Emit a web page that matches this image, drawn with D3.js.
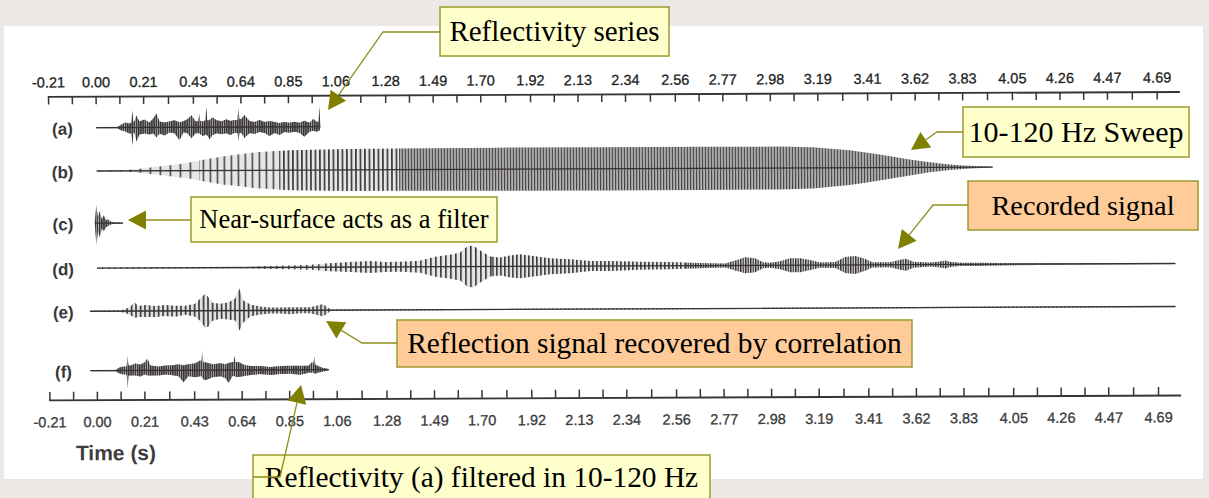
<!DOCTYPE html>
<html>
<head>
<meta charset="utf-8">
<script src="https://cdn.jsdelivr.net/npm/d3@7"></script>
<style>
  html, body { margin: 0; padding: 0; background: #ece8e5; }
  svg { display: block; }
</style>
</head>
<body>
<svg id="ch" width="1209" height="498"></svg>
<script>
// Vibroseis correlation figure: sweep, recorded signal, correlated output

const tickLabels = ["-0.21", "0.00", "0.21", "0.43", "0.64", "0.85", "1.06", "1.28",
  "1.49", "1.70", "1.92", "2.13", "2.34", "2.56", "2.77", "2.98", "3.19", "3.41",
  "3.62", "3.83", "4.05", "4.26", "4.47", "4.69"];
const traceNames = ["(a)", "(b)", "(c)", "(d)", "(e)", "(f)"];

/* envelopes: time (s), amplitude above / below the baseline (1 = full) */

// (a) reflectivity series
const aTime = [0.003, 0.096, 0.114, 0.131, 0.149, 0.158, 0.162, 0.166, 0.171, 0.180, 0.193, 0.215,
  0.237, 0.255, 0.268, 0.282, 0.304, 0.326, 0.348, 0.370, 0.388, 0.405,
  0.423, 0.441, 0.454, 0.458, 0.462, 0.476, 0.485, 0.489, 0.493, 0.503, 0.516, 0.534, 0.556, 0.578,
  0.595, 0.613, 0.627, 0.631, 0.635, 0.644, 0.657, 0.680, 0.702, 0.724, 0.746, 0.768,
  0.790, 0.812, 0.834, 0.856, 0.878, 0.900, 0.922, 0.945, 0.962, 0.976,
  0.985, 0.989, 0.993];
const aUp = [0.03, 0.03, 0.15, 0.25, 0.2, 0.25, 0.85, 0.3, 0.3, 0.6, 0.3, 0.4,
  0.25, 0.45, 0.7, 0.3, 0.25, 0.3, 0.35, 0.25, 0.3, 0.4,
  0.6, 0.3, 0.3, 0.7, 0.3, 0.3, 0.35, 1.0, 0.35, 0.35, 0.5, 0.35, 0.3, 0.4,
  0.3, 0.35, 0.35, 0.95, 0.4, 0.4, 0.6, 0.3, 0.25, 0.35, 0.25, 0.3,
  0.25, 0.2, 0.25, 0.2, 0.25, 0.2, 0.3, 0.2, 0.4, 0.25,
  0.25, 1.0, 0.03];
const aDown = [0.03, 0.03, 0.15, 0.2, 0.3, 0.3, 0.9, 0.3, 0.25, 0.7, 0.35, 0.3,
  0.35, 0.3, 0.5, 0.3, 0.4, 0.25, 0.3, 0.65, 0.25, 0.3,
  0.55, 0.3, 0.3, 0.3, 0.35, 0.45, 0.35, 0.4, 0.4, 0.6, 0.4, 0.3, 0.35, 0.3,
  0.4, 0.3, 0.3, 0.7, 0.3, 0.3, 0.55, 0.3, 0.35, 0.25, 0.3, 0.45,
  0.3, 0.4, 0.25, 0.3, 0.25, 0.3, 0.5, 0.25, 0.2, 0.25,
  0.2, 0.2, 0.03];

// (b) 10-120 Hz sweep
const bTime = [0.003, 0.136, 0.193, 0.268, 0.348, 0.414, 0.480, 0.560, 0.635, 0.710,
  0.856, 1.121, 1.785, 2.227, 2.668, 3.022, 3.168, 3.332, 3.464, 3.597,
  3.686, 3.774, 3.832, 3.885, 3.951, 3.964];
const bAmp = [0.03, 0.04, 0.1, 0.2, 0.3, 0.4, 0.55, 0.7, 0.8, 0.9,
  1.0, 1.05, 1.08, 1.08, 1.08, 1.07, 1.03, 0.87, 0.65, 0.4,
  0.25, 0.14, 0.09, 0.06, 0.03, 0.0];

// (c) near-surface response
const cTime = [-0.006, 0.001, 0.008, 0.016, 0.025, 0.034, 0.043, 0.052, 0.065, 0.078, 0.118];
const cUp = [0.03, 0.9, 0.3, 0.6, 0.2, 0.4, 0.15, 0.2, 0.07, 0.03, 0.03];
const cDown = [0.03, 1.1, 0.4, 0.7, 0.25, 0.4, 0.2, 0.15, 0.07, 0.03, 0.03];

// (d) recorded signal
const dTime = [0.003, 0.680, 0.724, 0.856, 0.945, 1.033, 1.121, 1.210, 1.276, 1.343,
  1.431, 1.498, 1.564, 1.608, 1.639, 1.666, 1.697, 1.741, 1.785, 1.829,
  1.873, 1.940, 2.006, 2.094, 2.183, 2.271, 2.404, 2.536, 2.668, 2.779,
  2.824, 2.868, 2.912, 2.947, 2.978, 3.022, 3.066, 3.111, 3.155, 3.199,
  3.266, 3.310, 3.354, 3.398, 3.429, 3.509, 3.553, 3.579, 3.611, 3.686,
  3.730, 3.752, 3.774, 3.818, 3.907, 3.995, 4.172, 4.437, 4.769];
const dAmp = [0.03, 0.03, 0.06, 0.09, 0.13, 0.2, 0.25, 0.3, 0.25, 0.25,
  0.3, 0.5, 0.6, 0.7, 1.0, 1.05, 0.8, 0.5, 0.45, 0.55,
  0.6, 0.5, 0.4, 0.35, 0.25, 0.25, 0.2, 0.18, 0.13, 0.1,
  0.25, 0.4, 0.35, 0.15, 0.13, 0.2, 0.35, 0.35, 0.25, 0.13,
  0.15, 0.4, 0.45, 0.3, 0.13, 0.13, 0.25, 0.3, 0.15, 0.1,
  0.15, 0.2, 0.13, 0.08, 0.08, 0.06, 0.05, 0.035, 0.025];

// (e) correlated output
const eTime = [-0.028, 0.105, 0.127, 0.149, 0.167, 0.184, 0.215, 0.260, 0.304, 0.348,
  0.392, 0.436, 0.458, 0.480, 0.493, 0.512, 0.547, 0.582, 0.613, 0.631,
  0.649, 0.680, 0.724, 0.768, 0.812, 0.856, 0.900, 0.945, 0.980, 0.998,
  1.016, 1.033, 1.047, 4.769];
const eUp = [0.03, 0.03, 0.1, 0.2, 0.45, 0.25, 0.3, 0.25, 0.3, 0.25,
  0.25, 0.35, 0.6, 0.85, 0.7, 0.4, 0.35, 0.4, 0.6, 1.1,
  0.5, 0.3, 0.2, 0.15, 0.15, 0.15, 0.15, 0.15, 0.25, 0.3,
  0.2, 0.05, 0.03, 0.03];
const eDown = [0.03, 0.03, 0.1, 0.2, 0.35, 0.3, 0.3, 0.3, 0.25, 0.3,
  0.2, 0.3, 0.5, 0.85, 0.8, 0.5, 0.4, 0.45, 0.5, 1.0,
  0.6, 0.3, 0.2, 0.15, 0.15, 0.2, 0.15, 0.15, 0.25, 0.3,
  0.2, 0.05, 0.03, 0.03];

// (f) reflectivity filtered 10-120 Hz
const fTime = [-0.028, 0.083, 0.100, 0.118, 0.132, 0.136, 0.140, 0.149, 0.171, 0.193, 0.211, 0.224,
  0.237, 0.273, 0.304, 0.335, 0.361, 0.383, 0.405, 0.436, 0.458, 0.463, 0.467, 0.471,
  0.480, 0.512, 0.547, 0.569, 0.582, 0.600, 0.605, 0.609, 0.613, 0.627, 0.653, 0.680,
  0.724, 0.768, 0.812, 0.856, 0.900, 0.936, 0.953, 0.958, 0.962, 0.966, 0.976, 0.998,
  1.025];
const fUp = [0.03, 0.03, 0.15, 0.2, 0.2, 0.75, 0.25, 0.25, 0.35, 0.3, 0.4, 0.6,
  0.25, 0.2, 0.25, 0.25, 0.3, 0.25, 0.3, 0.35, 0.5, 0.45, 1.0, 0.4,
  0.4, 0.3, 0.35, 0.3, 0.35, 0.4, 0.4, 0.7, 0.4, 0.4, 0.25, 0.2,
  0.2, 0.15, 0.2, 0.2, 0.2, 0.2, 0.4, 0.3, 0.7, 0.25, 0.2, 0.1,
  0.03];
const fDown = [0.03, 0.03, 0.15, 0.2, 0.2, 0.9, 0.25, 0.25, 0.25, 0.3, 0.2, 0.25,
  0.25, 0.25, 0.2, 0.25, 0.3, 0.6, 0.3, 0.35, 0.3, 0.3, 0.4, 0.45,
  0.5, 0.35, 0.3, 0.4, 0.65, 0.3, 0.3, 0.3, 0.35, 0.35, 0.3, 0.25,
  0.2, 0.25, 0.2, 0.2, 0.25, 0.15, 0.15, 0.15, 0.2, 0.2, 0.15, 0.1,
  0.03];

/* Layout */

const W = 1209, H = 498;
const ink = "#363332";
const yellow = "#ffffcc", peach = "#ffcc99", olive = "#808000";

const svg = d3.select("#ch");
const defs = svg.append("defs");

// white page of the scan
svg.append("rect")
  .attr("x", 4).attr("y", 26)
  .attr("width", 1199).attr("height", 453)
  .attr("fill", "#ffffff");

// the scanned figure sits slightly rotated
const fig = svg.append("g").attr("transform", "rotate(-0.25,600,250)");

// axis line runs a bit past the last tick
const x = d3.scaleLinear().domain([-0.2133, 4.79]).range([48, 1180]);
const amp = d3.scaleLinear().domain([0, 1]).range([0, 20]);

/* Axes */

const major = tickLabels.map(Number);
const allTicks = [];
major.forEach((v, i) => {
  allTicks.push(v);
  if (i < major.length - 1) allTicks.push((v + major[i + 1]) / 2);
});
const fmt = (d, i) => (i % 2 === 0 ? tickLabels[i / 2] : "");

const topAxis = d3.axisTop(x).tickValues(allTicks).tickFormat(fmt)
  .tickSizeInner(-8).tickSizeOuter(0).tickPadding(9);
const botAxis = d3.axisBottom(x).tickValues(allTicks).tickFormat(fmt)
  .tickSizeInner(-8).tickSizeOuter(0).tickPadding(17);

const styleAxis = (g, col) => {
  g.select(".domain").attr("stroke", "#363636").attr("stroke-width", 1.9);
  g.selectAll(".tick line").attr("stroke", "#363636").attr("stroke-width", 1.5);
  g.selectAll(".tick text")
    .attr("fill", col)
    .attr("stroke", col).attr("stroke-width", 0.3)
    .style("font-family", "'Liberation Sans', Arial, Helvetica, sans-serif")
    .style("font-size", "14.5px");
};

fig.append("g").attr("transform", "translate(0,94)").call(topAxis).call(styleAxis, "#1f1f1f");
fig.append("g").attr("transform", "translate(0,397.5)").call(botAxis).call(styleAxis, "#3a3a3a");

fig.append("text")
  .attr("x", 75).attr("y", 458)
  .attr("fill", "#3d3d3d")
  .style("font-family", "'Liberation Sans', Arial, Helvetica, sans-serif")
  .style("font-size", "21px").style("font-weight", "bold")
  .text("Time (s)");

/* Stripe patterns stand in for the dense wiggles */

const patterns = {};
const stripe = (p) => {
  const id = "st" + String(p).replace(".", "_");
  if (!patterns[id]) {
    const w = p <= 2.5 ? 1.4 : p <= 3 ? 1.6 : p <= 5 ? 1.6 : 1.4;
    defs.append("pattern")
      .attr("id", id)
      .attr("patternUnits", "userSpaceOnUse")
      .attr("width", p).attr("height", 4)
      .append("rect")
      .attr("width", w).attr("height", 4)
      .attr("fill", ink);
    patterns[id] = true;
  }
  return "url(#" + id + ")";
};

/* Traces */

const traces = [
  { t: aTime, up: aUp, dn: aDown, y: 125.5, under: 0.45, fills: [[-0.1, 1.1, 2.2]] },
  { t: bTime, up: bAmp, dn: bAmp, y: 168.8, under: 0.12,
    fills: [[-0.1, 0.46, 10], [0.46, 0.81, 7], [0.81, 1.34, 4.5], [1.34, 4.1, 3]] },
  { t: cTime, up: cUp, dn: cDown, y: 221, under: 0.4, fills: [[-0.1, 0.2, 2.2]] },
  { t: dTime, up: dAmp, dn: dAmp, y: 266, under: 0.12,
    fills: [[-0.1, 1.0, 6], [1.0, 1.75, 5], [1.75, 2.6, 4], [2.6, 4.9, 2.5]] },
  { t: eTime, up: eUp, dn: eDown, y: 309, under: 0.15,
    fills: [[-0.1, 0.7, 4.5], [0.7, 4.9, 4]] },
  { t: fTime, up: fUp, dn: fDown, y: 368.5, under: 0.4, fills: [[-0.1, 1.1, 2.2]] }
];

let clipN = 0;

traces.forEach((tr, k) => {
  const pts = tr.t.map((t, i) => ({ t: t, up: tr.up[i], dn: tr.dn[i] }));
  const area = d3.area()
    .x((d) => x(d.t))
    .y0((d) => tr.y + amp(d.dn))
    .y1((d) => tr.y - amp(d.up));

  const g = fig.append("g");

  // baseline of the trace
  g.append("line")
    .attr("x1", x(tr.t[0])).attr("x2", x(tr.t[tr.t.length - 1]))
    .attr("y1", tr.y).attr("y2", tr.y)
    .attr("stroke", ink).attr("stroke-width", 1.3);

  tr.fills.forEach(([t0, t1, p]) => {
    const id = "clip" + clipN++;
    defs.append("clipPath").attr("id", id)
      .append("rect")
      .attr("x", x(t0)).attr("y", 0)
      .attr("width", x(t1) - x(t0)).attr("height", H);
    g.append("path").datum(pts)
      .attr("d", area)
      .attr("fill", ink).attr("fill-opacity", tr.under)
      .attr("clip-path", "url(#" + id + ")");
    g.append("path").datum(pts)
      .attr("d", area)
      .attr("fill", stripe(p))
      .attr("clip-path", "url(#" + id + ")");
  });

  fig.append("text")
    .attr("x", 63).attr("y", tr.y + 7)
    .attr("text-anchor", "middle")
    .attr("fill", "#383838")
    .style("font-family", "'Liberation Sans', Arial, Helvetica, sans-serif")
    .style("font-size", "17px").style("font-weight", "bold")
    .text(traceNames[k]);
});

/* Callouts */

const notes = [
  { text: "Reflectivity series", box: [440, 7, 229, 49], fill: yellow, size: 29, base: 41,
    path: [[440, 32], [383, 32]], tip: [328, 110] },
  { text: "10-120 Hz Sweep", box: [963, 107, 226, 50], fill: yellow, size: 30, base: 142,
    path: [[963, 132], [937, 132]], tip: [911, 150] },
  { text: "Near-surface acts as a filter", box: [191, 197, 306, 45], fill: yellow, size: 26.5, base: 228,
    path: [[191, 220]], tip: [128, 220] },
  { text: "Recorded signal", box: [968, 181, 230, 49], fill: peach, size: 28.3, base: 215,
    path: [[968, 205], [933, 205]], tip: [898, 249] },
  { text: "Reflection signal recovered by correlation", box: [397, 320, 515, 47], fill: peach, size: 29.4, base: 353,
    path: [[397, 343], [362, 343]], tip: [326, 321] },
  { text: "Reflectivity (a) filtered in 10-120 Hz", box: [253, 455, 457, 50], fill: yellow, size: 29.4, base: 487,
    path: [[253, 477], [280, 477]], tip: [301, 385] }
];

const notesG = svg.append("g");

notes.forEach((n) => {
  const [bx, by, bw, bh] = n.box;
  notesG.append("rect")
    .attr("x", bx).attr("y", by).attr("width", bw).attr("height", bh)
    .attr("fill", n.fill).attr("stroke", "#9a9a2e").attr("stroke-width", 1.5);
  notesG.append("text")
    .attr("x", bx + bw / 2).attr("y", n.base)
    .attr("text-anchor", "middle")
    .attr("fill", "#000")
    .style("font-family", "'Liberation Serif', 'Times New Roman', serif")
    .style("font-size", n.size + "px")
    .text(n.text);

  // connector + arrow head
  const last = n.path[n.path.length - 1];
  const dx = n.tip[0] - last[0], dy = n.tip[1] - last[1];
  const len = Math.hypot(dx, dy);
  const ux = dx / len, uy = dy / len;
  const L = 18, hw = 9.5;
  const hx = n.tip[0] - ux * L, hy = n.tip[1] - uy * L;

  notesG.append("path")
    .attr("d", d3.line()(n.path.concat([[hx, hy]])))
    .attr("fill", "none").attr("stroke", "#8f8f1f").attr("stroke-width", 1.3);
  notesG.append("path")
    .attr("d", d3.line()([n.tip, [hx - uy * hw, hy + ux * hw], [hx + uy * hw, hy - ux * hw]]) + "Z")
    .attr("fill", olive);
});
</script>
</body>
</html>
